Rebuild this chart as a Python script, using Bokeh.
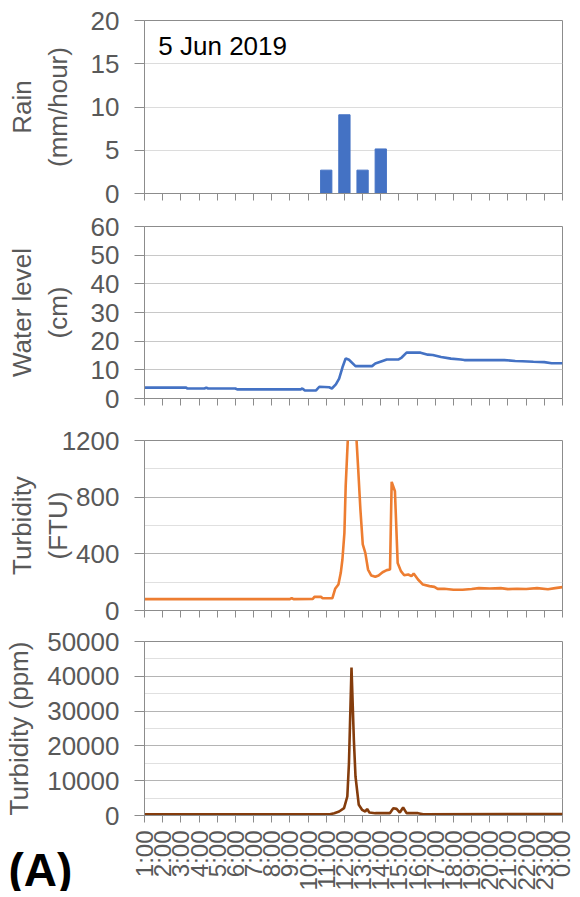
import math
from bokeh.plotting import figure
from bokeh.layouts import column, row
from bokeh.models import Range1d, FixedTicker, Label
from bokeh.core.properties import value
from bokeh.embed import file_html
from bokeh.resources import INLINE

# ---------------- data ----------------
hour_ticks = [1, 2, 3, 4, 5, 6, 7, 8, 9, 10, 11, 12, 13, 14, 15, 16, 17, 18, 19, 20, 21, 22, 23, 24]
hour_labels = ["1:00", "2:00", "3:00", "4:00", "5:00", "6:00", "7:00", "8:00", "9:00", "10:00",
               "11:00", "12:00", "13:00", "14:00", "15:00", "16:00", "17:00", "18:00", "19:00",
               "20:00", "21:00", "22:00", "23:00", "0:00"]

rain_hours = [11, 12, 13, 14]
rain_mm = [2.7, 9.1, 2.7, 5.15]

wl_t = [1.0, 3.3, 3.35, 4.3, 4.4, 4.5, 6.0, 6.1, 9.6, 9.68, 9.75, 9.81, 10.44, 10.62, 11.16,
        11.31, 11.53, 11.71, 11.89, 12.07, 12.25, 12.61, 13.52, 13.70, 14.06, 14.33, 14.96,
        15.15, 15.42, 16.19, 16.59, 16.86, 17.32, 17.86, 18.40, 18.60, 20.8, 21.4, 21.8, 22.4,
        23.0, 23.4, 24.0]
wl_cm = [3.8, 3.8, 3.5, 3.5, 3.8, 3.5, 3.5, 3.2, 3.2, 3.5, 3.2, 2.8, 2.8, 4.1, 3.9,
         3.5, 4.9, 6.9, 10.8, 14.0, 13.5, 11.3, 11.3, 12.2, 13.0, 13.6, 13.6,
         14.3, 16.0, 16.0, 15.3, 15.2, 14.5, 13.9, 13.6, 13.4, 13.4, 13.1, 13.0, 12.8,
         12.7, 12.3, 12.3]

ftu_t = [1.0, 9.0, 9.1, 9.2, 10.26, 10.35, 10.71, 10.80, 11.34, 11.49, 11.67, 11.80, 11.89,
         12.00, 12.07, 12.4, 12.76, 12.88, 13.01, 13.15, 13.30, 13.48, 13.70, 13.88, 14.10,
         14.33, 14.51, 14.60, 14.78, 14.93, 15.11, 15.29, 15.51, 15.69, 15.81, 16.05, 16.32,
         16.68, 16.95, 17.13, 17.49, 18.0, 18.5, 19.0, 19.4, 20.0, 20.6, 21.0, 21.5, 22.0,
         22.6, 23.2, 23.6, 24.0]
ftu_v = [80, 80, 88, 80, 82, 96, 96, 87, 87, 153, 183, 266, 360,
         548, 878, 1800, 995, 713, 466, 407, 289, 247, 238, 247, 270,
         285, 289, 908, 842, 336, 278, 249, 254, 242, 261, 219, 183,
         172, 167, 153, 153, 146, 146, 152, 158, 155, 158, 151, 153, 152,
         158, 150, 158, 165]

ppm_t = [1.0, 11.2, 11.44, 11.71, 11.98, 12.16, 12.25, 12.39, 12.52, 12.61, 12.79, 12.97,
         13.15, 13.25, 13.37, 13.7, 14.5, 14.69, 14.87, 15.05, 15.23, 15.42, 16.05, 16.33, 24.0]
ppm_v = [380, 380, 670, 1150, 2100, 5460, 15000, 42500, 21700, 11200, 3070, 1630,
         1150, 1900, 860, 670, 670, 2100, 1900, 860, 2300, 670, 670, 380, 400]

# ---------------- style ----------------
FONT = "Liberation Sans"
GRAY_TXT = "#595959"
AX = "#8c8c8c"
LEFT = 144
FW = 418
RIGHT = 12
XPAD = 14          # left border of the hour-label strip


def make_fig(yr, yticks, yminor, ylabel, standoff, top, fh, bottom, major_grid, minor_grid=None):
    p = figure(width=LEFT + FW + RIGHT, frame_width=FW, frame_height=fh, min_border_left=LEFT,
               min_border_right=RIGHT, min_border_top=top, min_border_bottom=bottom,
               x_range=Range1d(1, 24), y_range=Range1d(*yr), title=None,
               output_backend="svg", toolbar_location=None)
    p.outline_line_color = AX
    p.outline_line_width = 1
    p.xgrid.visible = False
    p.ygrid.grid_line_color = major_grid
    p.ygrid.grid_line_width = 1
    if minor_grid:
        p.ygrid.minor_grid_line_color = minor_grid
    xa = p.xaxis[0]
    xa.ticker = FixedTicker(ticks=hour_ticks)
    xa.axis_line_color = AX
    xa.major_tick_line_color = AX
    xa.major_tick_out = 7
    xa.major_tick_in = 0
    xa.minor_tick_line_color = None
    xa.major_label_overrides = {t: "" for t in hour_ticks}
    xa.major_label_text_font_size = "1px"
    xa.major_label_standoff = 0
    ya = p.yaxis[0]
    ya.ticker = FixedTicker(ticks=yticks, minor_ticks=yminor)
    ya.axis_line_color = AX
    ya.major_tick_line_color = AX
    ya.major_tick_out = 10
    ya.major_tick_in = 0
    ya.minor_tick_line_color = None
    ya.major_label_text_font_size = "26px"
    ya.major_label_text_font = FONT
    ya.major_label_text_color = GRAY_TXT
    ya.major_label_standoff = 15
    ya.axis_label = ylabel
    ya.axis_label_text_font = FONT
    ya.axis_label_text_font_size = "26px"
    ya.axis_label_text_font_style = "normal"
    ya.axis_label_text_color = GRAY_TXT
    ya.axis_label_standoff = standoff
    return p


p1 = make_fig((0, 20), [0, 5, 10, 15, 20], [], "Rain\n(mm/hour)", 15, 20, 173, 15, "#dcdcdc")
p1.vbar(x=rain_hours, top=rain_mm, width=0.62, color="#4472C4")
p1.add_layout(Label(x=1.76, y=17.1, text="5 Jun 2019", text_font=FONT, text_font_size="26px",
                    text_color="black", text_baseline="alphabetic"))

p2 = make_fig((0, 60), [0, 10, 20, 30, 40, 50, 60], [], "Water level\n(cm)", 15, 18, 172, 17, "#c8c8c8")
p2.line(wl_t, wl_cm, line_color="#4472C4", line_width=2.6)

p3 = make_fig((0, 1200), [0, 400, 800, 1200], [200, 600, 1000], "Turbidity\n(FTU)", -14, 25, 170, 15,
              "#b4b4b4", "#e0e0e0")
p3.line(ftu_t, ftu_v, line_color="#ED7D31", line_width=2.6)

p4 = make_fig((0, 50000), [0, 10000, 20000, 30000, 40000, 50000], [5000, 15000, 25000, 35000, 45000],
              "Turbidity (ppm)", 10, 16, 174, 14, "#b4b4b4", "#e0e0e0")
p4.line(ppm_t, ppm_v, line_color="#843C0C", line_width=2.6)

# bottom strip: panel tag + hour labels
BOT_H = 62
AW = LEFT - XPAD
pA = figure(width=AW, height=BOT_H, frame_width=AW, frame_height=BOT_H,
            min_border=0, x_range=Range1d(0, AW), y_range=Range1d(0, BOT_H),
            x_axis_type=None, y_axis_type=None, title=None,
            output_backend="svg", toolbar_location=None)
pA.outline_line_color = None
pA.grid.visible = False
pA.text(x=[8], y=[22], text=["(A)"], text_font=value(FONT), text_font_size="46px",
        text_font_style="bold", text_color="black", text_baseline="middle", text_align="left")

pX = figure(width=XPAD + FW + RIGHT, frame_width=FW, frame_height=1, min_border_left=XPAD,
            min_border_right=RIGHT, min_border_top=0, min_border_bottom=BOT_H - 1,
            x_range=p4.x_range, y_range=Range1d(0, 1), y_axis_type=None, title=None,
            output_backend="svg", toolbar_location=None)
pX.outline_line_color = None
pX.grid.visible = False
xb = pX.xaxis[0]
xb.ticker = FixedTicker(ticks=hour_ticks)
xb.major_label_overrides = {t: l for t, l in zip(hour_ticks, hour_labels)}
xb.major_label_orientation = math.pi / 2
xb.major_label_text_font_size = "24px"
xb.major_label_text_font = FONT
xb.major_label_text_color = GRAY_TXT
xb.major_label_standoff = 0
xb.axis_line_color = None
xb.major_tick_line_color = None
xb.minor_tick_line_color = None
xb.major_tick_out = 0
xb.major_tick_in = 0

layout = column(p1, p2, p3, p4, row(pA, pX, spacing=0), spacing=0)
open("out.html", "w").write(file_html(layout, INLINE))
